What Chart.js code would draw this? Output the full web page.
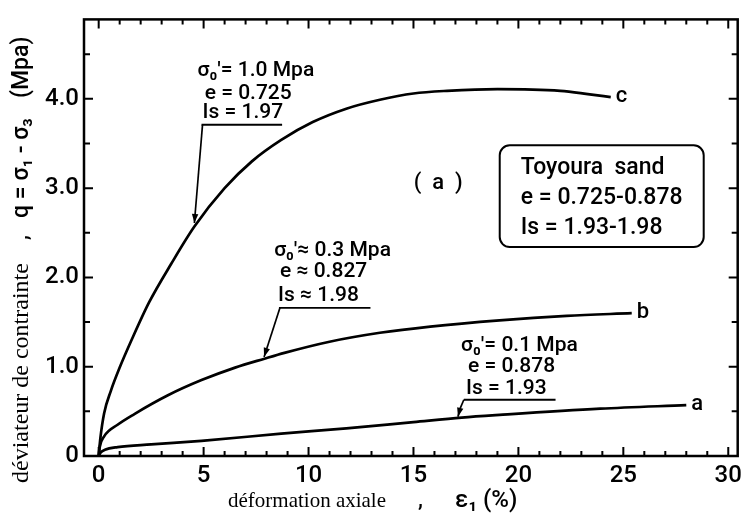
<!DOCTYPE html>
<html>
<head>
<meta charset="utf-8">
<script src="https://cdn.jsdelivr.net/npm/chart.js@4.4.1/dist/chart.umd.min.js"></script>
<style>
  html, body { margin: 0; padding: 0; background: #fff; }
</style>
</head>
<body>
<canvas id="chart" width="748" height="517"></canvas>
<script>
// Curves: axial strain (%) vs deviator stress (MPa)
const strainA = [0, 0.1, 0.3, 0.9, 2.5, 4.9, 8.7, 11.8, 15, 17.3, 19.1, 23.9, 28];
const stressA = [0, 0.04, 0.07, 0.1, 0.13, 0.17, 0.25, 0.31, 0.38, 0.43, 0.46, 0.53, 0.57];

const strainB = [0, 0.05, 0.26, 0.9, 1.7, 3.3, 4.9, 6.5, 7.9, 8.85, 11, 13.4, 15.8, 19.1, 22.3, 25.4];
const stressB = [0, 0.1, 0.22, 0.35, 0.47, 0.68, 0.85, 0.99, 1.09, 1.155, 1.28, 1.38, 1.45, 1.52, 1.57, 1.6];

const strainC = [0, 0.08, 0.26, 0.58, 1, 1.55, 2.4, 3.45, 4.56, 6, 7.3, 8.7, 10.2, 11.8, 13.4, 15, 16.6, 19, 22, 23.4, 24.4];
const stressC = [0, 0.2, 0.48, 0.73, 0.99, 1.29, 1.72, 2.15, 2.57, 3.0, 3.3, 3.54, 3.74, 3.89, 3.99, 4.06, 4.09, 4.11, 4.09, 4.05, 4.02];

const curveNames = ['a', 'b', 'c'];

// axis ticks
const xTicks = [0, 5, 10, 15, 20, 25, 30];
const yTicks = [0, 1, 2, 3, 4];
const xMinor = [];
for (let i = 0; i <= 30; i++) xMinor.push(i);
const yMinor = [0.5, 1, 1.5, 2, 2.5, 3, 3.5, 4, 4.5];

const sans = 'Roboto, "DejaVu Sans", sans-serif';
const serif = '"Liberation Serif", "DejaVu Serif", serif';

function toPoints(xs, ys) {
  return xs.map((x, i) => ({ x: x, y: ys[i] }));
}

// frame, inward ticks, annotations and axis titles
const drawingPlugin = {
  id: 'drawing',
  afterDatasetsDraw(chart) {
    const ctx = chart.ctx;
    const xs = chart.scales.x, ys = chart.scales.y;
    const area = chart.chartArea;
    const X = v => xs.getPixelForValue(v);
    const Y = v => ys.getPixelForValue(v);

    ctx.save();
    ctx.strokeStyle = '#000';
    ctx.fillStyle = '#000';
    ctx.lineCap = 'butt';

    // frame
    ctx.lineWidth = 2.5;
    ctx.strokeRect(area.left, area.top, area.right - area.left, area.bottom - area.top);

    // inward ticks
    ctx.lineWidth = 2;
    ctx.beginPath();
    xMinor.forEach(v => {
      const len = v % 5 === 0 ? 9 : 5;
      const px = X(v);
      ctx.moveTo(px, area.bottom); ctx.lineTo(px, area.bottom - len);
      ctx.moveTo(px, area.top); ctx.lineTo(px, area.top + len);
    });
    yMinor.forEach(v => {
      const len = Number.isInteger(v) ? 9 : 6;
      const py = Y(v);
      ctx.moveTo(area.left, py); ctx.lineTo(area.left + len, py);
      ctx.moveTo(area.right, py); ctx.lineTo(area.right - len, py);
    });
    ctx.stroke();

    // curve end labels
    ctx.font = '500 22px ' + sans;
    ctx.textAlign = 'left';
    ctx.textBaseline = 'middle';
    chart.data.datasets.forEach((ds, i) => {
      const last = ds.data[ds.data.length - 1];
      ctx.fillText(curveNames[i], X(last.x) + 5, Y(last.y) - 1);
    });

    function arrow(x0, y0, x1, y1) {
      ctx.lineWidth = 1.7;
      ctx.beginPath();
      ctx.moveTo(x0, y0);
      ctx.lineTo(x1, y1);
      ctx.stroke();
      const ang = Math.atan2(y1 - y0, x1 - x0);
      const L = 9, W = 3.2;
      ctx.beginPath();
      ctx.moveTo(x1, y1);
      ctx.lineTo(x1 - L * Math.cos(ang) + W * Math.sin(ang), y1 - L * Math.sin(ang) - W * Math.cos(ang));
      ctx.lineTo(x1 - L * Math.cos(ang) - W * Math.sin(ang), y1 - L * Math.sin(ang) + W * Math.cos(ang));
      ctx.closePath();
      ctx.fill();
    }

    function note(lines, under, tip, mid) {
      ctx.font = '500 21px ' + sans;
      ctx.textAlign = 'left';
      ctx.textBaseline = 'middle';
      lines.forEach(l => ctx.fillText(l.t, X(l.x), Y(l.y)));
      ctx.lineWidth = 1.8;
      ctx.beginPath();
      ctx.moveTo(X(under.x0), Y(under.y));
      ctx.lineTo(X(under.x1), Y(under.y));
      ctx.stroke();
      if (mid) {
        ctx.lineWidth = 1.7;
        ctx.beginPath();
        ctx.moveTo(X(under.x0), Y(under.y));
        ctx.lineTo(X(mid.x), Y(mid.y));
        ctx.stroke();
        arrow(X(mid.x), Y(mid.y), X(tip.x), Y(tip.y));
      } else {
        arrow(X(under.x0) + 1, Y(under.y), X(tip.x), Y(tip.y));
      }
    }

    note([
      { t: 'σ₀′= 1.0 Mpa', x: 4.71, y: 4.31 },
      { t: 'e = 0.725', x: 5.05, y: 4.06 },
      { t: 'Is = 1.97', x: 4.95, y: 3.84 }
    ], { x0: 4.9, x1: 8.74, y: 3.71 }, { x: 4.56, y: 2.61 });

    note([
      { t: 'σ₀′≈ 0.3 Mpa', x: 8.36, y: 2.30 },
      { t: 'e ≈ 0.827', x: 8.64, y: 2.06 },
      { t: 'Is ≈ 1.98', x: 8.55, y: 1.80 }
    ], { x0: 8.59, x1: 12.95, y: 1.66 }, { x: 7.88, y: 1.11 });

    note([
      { t: 'σ₀′= 0.1 Mpa', x: 17.27, y: 1.24 },
      { t: 'e = 0.878', x: 17.6, y: 1.0 },
      { t: 'Is = 1.93', x: 17.5, y: 0.75 }
    ], { x0: 17.4, x1: 21.77, y: 0.63 }, { x: 17.12, y: 0.44 }, { x: 17.22, y: 0.53 });

    // panel tag
    ctx.font = '500 22px ' + sans;
    ctx.textAlign = 'center';
    ctx.fillText('(  a  )', X(16.18), Y(3.05));

    // material box
    const bx0 = X(19.11), bx1 = X(28.83), by0 = Y(3.48), by1 = Y(2.34);
    ctx.lineWidth = 2;
    ctx.beginPath();
    ctx.roundRect(bx0, by0, bx1 - bx0, by1 - by0, 10);
    ctx.stroke();
    ctx.textAlign = 'left';
    ctx.font = '500 23px ' + sans;
    ctx.fillText('Toyoura  sand', X(20.11), Y(3.22));
    ctx.fillText('e = 0.725-0.878', X(20.11), Y(2.89));
    ctx.fillText('Is = 1.93-1.98', X(20.11), Y(2.55));

    // axis titles (mixed serif / sans like the original)
    function runText(parts) {
      parts.forEach(p => {
        ctx.font = p.f;
        ctx.fillText(p.t, p.at, 0);
      });
    }
    ctx.textAlign = 'left';
    ctx.textBaseline = 'middle';
    ctx.save();
    ctx.translate(22, 0);
    ctx.rotate(-Math.PI / 2);
    // rotated: position along text = -y
    runText([
      { t: 'déviateur de contrainte', f: '24px ' + serif, at: -483 },
      { t: ',', f: '500 22px ' + sans, at: -240 },
      { t: 'q = σ₁ - σ₃', f: '500 23px ' + sans, at: -218 },
      { t: '(Mpa)', f: '500 23px ' + sans, at: -98 }
    ]);
    ctx.restore();

    ctx.save();
    ctx.translate(0, 501);
    runText([
      { t: 'déformation axiale', f: '21px ' + serif, at: 228 },
      { t: ',', f: '500 22px ' + sans, at: 418 },
      { t: 'ε₁ (%)', f: '500 24px ' + sans, at: 455 }
    ]);
    ctx.restore();

    ctx.restore();
  }
};

const lineStyle = {
  borderColor: '#000',
  borderWidth: 2.7,
  pointRadius: 0,
  fill: false,
  cubicInterpolationMode: 'monotone'
};

const ctx = document.getElementById('chart').getContext('2d');
const chart = new Chart(ctx, {
  type: 'line',
  data: {
    datasets: [
      Object.assign({ label: 'a', data: toPoints(strainA, stressA) }, lineStyle),
      Object.assign({ label: 'b', data: toPoints(strainB, stressB) }, lineStyle),
      Object.assign({ label: 'c', data: toPoints(strainC, stressC) }, lineStyle)
    ]
  },
  options: {
    responsive: false,
    animation: false,
    layout: { padding: { left: 0, right: 7, top: 19, bottom: 0 } },
    plugins: {
      legend: { display: false },
      tooltip: { enabled: false }
    },
    scales: {
      x: {
        type: 'linear',
        min: -0.7,
        max: 30.45,
        grid: { display: false, drawTicks: false },
        border: { display: false },
        afterBuildTicks: s => { s.ticks = xTicks.map(v => ({ value: v })); },
        afterFit: s => { s.height = 61; },
        ticks: {
          color: '#000',
          padding: 6,
          maxRotation: 0,
          autoSkip: false,
          font: { family: sans, size: 24, weight: '500' },
          callback: v => String(v)
        }
      },
      y: {
        type: 'linear',
        min: 0,
        max: 4.89,
        grid: { display: false, drawTicks: false },
        border: { display: false },
        afterBuildTicks: s => { s.ticks = yTicks.map(v => ({ value: v })); },
        afterFit: s => { s.width = 84; },
        ticks: {
          color: '#000',
          padding: 5,
          autoSkip: false,
          font: { family: sans, size: 24, weight: '500' },
          callback: v => v === 0 ? '0' : v.toFixed(1)
        }
      }
    }
  },
  plugins: [drawingPlugin]
});
</script>
</body>
</html>
